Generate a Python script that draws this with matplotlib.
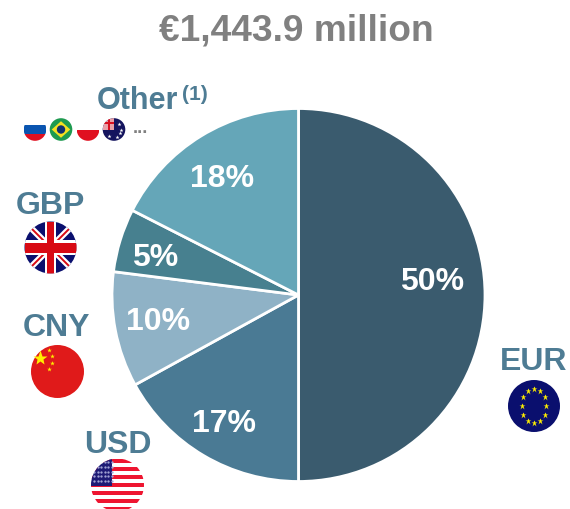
#!/usr/bin/env python3
import numpy as np
import matplotlib
matplotlib.use('Agg')
import matplotlib.pyplot as plt
from matplotlib.patches import Circle, Rectangle, Polygon

TITLE = '€1,443.9 million'
currencies = ['EUR', 'USD', 'CNY', 'GBP', 'Other']
shares = [50, 17, 10, 5.5, 17.5]  # as measured from the slice angles
share_labels = ['50%', '17%', '10%', '5%', '18%']
colors = ['#3A5B6E', '#4A7A94', '#8FB2C6', '#47808F', '#65A6B8']

TEXT_BLUE = '#4E7C94'
GREY = '#808080'
RED = '#E01A1A'
NAVY = '#0A0F6E'
W, H = 570, 509

plt.rcParams['font.family'] = ['Liberation Sans', 'DejaVu Sans']
fig = plt.figure(figsize=(W / 100, H / 100), dpi=100)

# pie axes, placed in pixels
cx, cy, r = 298.5, 295, 186.5
ax = fig.add_axes([(cx - r) / W, 1 - (cy + r) / H, 2 * r / W, 2 * r / H])
ax.pie(shares, colors=colors, startangle=90, counterclock=False, radius=1,
       wedgeprops={'edgecolor': 'white', 'linewidth': 2})
ax.set_xlim(-1, 1); ax.set_ylim(-1, 1)
ax.axis('off')

# overlay in image pixels for text and flags
ov = fig.add_axes([0, 0, 1, 1])
ov.set_xlim(0, W); ov.set_ylim(H, 0)
ov.axis('off')
ov.patch.set_alpha(0)

ov.text(296.5, 31, TITLE, color=GREY, fontsize=26.7, fontweight='bold', ha='center', va='center')

label_pos = [(432, 282), (224.5, 424), (158, 322), (155, 258), (222, 179)]
for lab, (x, y) in zip(share_labels, label_pos):
    ov.text(x, y, lab, color='white', fontsize=23, fontweight='bold', ha='center', va='center')

def cur(txt, x, y, size=23):
    ov.text(x, y, txt, color=TEXT_BLUE, fontsize=size, fontweight='bold', ha='center', va='baseline')

cur('EUR', 533.5, 370)
cur('USD', 117.5, 453)
cur('CNY', 57, 336)
cur('GBP', 50.5, 214)
cur('Other', 137.5, 109, 22)
ov.text(195, 100, '(1)', color=TEXT_BLUE, fontsize=15, fontweight='bold', ha='center', va='baseline')
ov.text(140, 133, '...', color=GREY, fontsize=13, fontweight='bold', ha='center', va='baseline')

def disc(x, y, rad, col):
    c = Circle((x, y), rad, fc=col, ec='none', zorder=2)
    ov.add_patch(c)
    return c

def clip_rect(clip, x, y, w, h, col, z=3):
    p = Rectangle((x, y), w, h, fc=col, ec='none', zorder=z)
    ov.add_patch(p)
    p.set_clip_path(clip)

def clip_line(clip, xs, ys, col, lw, z=3):
    l, = ov.plot(xs, ys, color=col, lw=lw, solid_capstyle='butt', zorder=z)
    l.set_clip_path(clip)

def stars(xs, ys, size, col='#FFF000', z=4):
    ov.plot(xs, ys, ls='none', marker='*', ms=size, color=col, mec='none', zorder=z)

def flag_gbp(x, y, rad):
    c = disc(x, y, rad, NAVY)
    for sx in (-1, 1):
        clip_line(c, [x - sx * rad, x + sx * rad], [y - rad, y + rad], 'white', 4.5)
        clip_line(c, [x - sx * rad, x + sx * rad], [y - rad, y + rad], '#D80A14', 1.4, 4)
    clip_rect(c, x - rad, y - 7.5, 2 * rad, 15, 'white', 5)
    clip_rect(c, x - 5.5, y - rad, 11, 2 * rad, 'white', 5)
    clip_rect(c, x - rad, y - 5, 2 * rad, 10, '#D80A14', 6)
    clip_rect(c, x - 3.2, y - rad, 6.4, 2 * rad, '#D80A14', 6)

def flag_cny(x, y, rad):
    disc(x, y, rad, RED)
    stars([x - 18], [y - 13.5], 11)
    stars([x - 8.5, x - 5.2, x - 5.2, x - 8.5], [y - 21.5, y - 15.8, y - 8.8, y - 2.8], 3.5)

def flag_usd(x, y, rad):
    c = disc(x, y, rad, 'white')
    for k in range(7):
        clip_rect(c, x - rad, y - rad + k * 8.1, 2 * rad, 4.1, '#EE1530')
    clip_rect(c, x - rad, y - rad, rad - 5.5, 27, '#1E1A75', 4)
    for i in range(5):
        for j in range(6):
            dot, = ov.plot(x - rad + 3 + j * 3.6, y - rad + 3.5 + i * 4.8, '.', ms=1.3,
                           color='#A8A8D8', zorder=5)
            dot.set_clip_path(c)

def flag_eur(x, y, rad):
    disc(x, y, rad, NAVY)
    a = np.deg2rad(np.arange(0, 360, 30))
    stars(x + 0.47 * rad * np.cos(a), y + 0.67 * rad * np.sin(a), 5)

def flag_ru(x, y, rad):
    c = disc(x, y, rad, 'white')
    clip_rect(c, x - rad, y - 4.5, 2 * rad, 9, '#0A55B0')
    clip_rect(c, x - rad, y + 4.5, 2 * rad, rad, '#E01020')

def flag_br(x, y, rad):
    disc(x, y, rad, '#1E9A50')
    ov.add_patch(Polygon([(x - rad + 2, y), (x, y - rad + 3), (x + rad - 2, y), (x, y + rad - 3)],
                         fc='#F5E020', ec='none', zorder=3))
    disc(x, y, 4.2, '#12306E').set_zorder(4)

def flag_pl(x, y, rad):
    c = disc(x, y, rad, 'white')
    clip_rect(c, x - rad, y, 2 * rad, rad, '#E01020')

def flag_au(x, y, rad):
    c = disc(x, y, rad, '#14145E')
    clip_rect(c, x - rad, y - rad, rad, rad, '#E8A0A8')
    clip_rect(c, x - rad, y - 7.5, rad, 2, '#D81020', 4)
    clip_rect(c, x - 6.5, y - rad, 2, rad, '#D81020', 4)
    stars([x - 5, x + 5, x + 7, x + 3, x + 6], [y + 6, y - 6, y, y + 7, y + 3], 3, 'white')

flag_eur(534, 406, 26)
flag_usd(117.5, 485, 26.5)
flag_cny(57.5, 371.5, 26.5)
flag_gbp(50.5, 247.5, 26)
flag_ru(35, 129.5, 11.3)
flag_br(61, 129.5, 11.3)
flag_pl(88, 129.5, 11.3)
flag_au(114, 129.5, 11.3)

fig.savefig('out.png', dpi=100)
print('Saved out.png')
